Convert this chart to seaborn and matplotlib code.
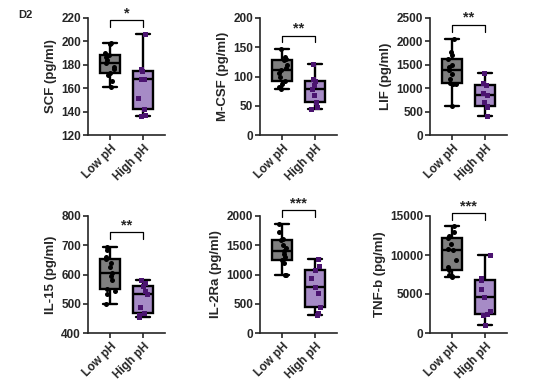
import numpy as np
import pandas as pd
import matplotlib
matplotlib.use("Agg")
import matplotlib.pyplot as plt
import seaborn as sns

sns.set_theme(style="ticks")
plt.rcParams["font.family"] = ["Liberation Sans", "DejaVu Sans"]
plt.rcParams["font.weight"] = "bold"
plt.rcParams["axes.labelweight"] = "bold"

groups = ["Low pH", "High pH"]

scf_low = [160.9, 166, 171, 172.9, 176, 178, 181.4, 184, 187, 188.6, 190, 198, 198.6]
scf_high = [136.6, 137, 142, 152, 167.7, 168, 174.3, 176, 206]
mcsf_low = [78.3, 82, 88, 93.1, 100, 106, 111.4, 115, 120, 128.6, 130, 134, 146.9]
mcsf_high = [44, 48, 56.6, 68, 78.9, 85, 92.6, 95, 121]
lif_low = [618, 1080, 1090, 1101, 1200, 1300, 1385, 1450, 1500, 1634, 1700, 1780, 2053]
lif_high = [412, 600, 625, 700, 852, 900, 1065, 1120, 1328]
il15_low = [500, 535, 545, 551, 580, 595, 605, 625, 640, 652, 660, 685, 693]
il15_high = [456, 460, 469, 490, 534, 545, 559, 570, 581]
il2ra_low = [989, 1000, 1200, 1247, 1300, 1350, 1397, 1450, 1500, 1586, 1600, 1720, 1868]
il2ra_high = [316, 340, 443, 680, 793, 940, 1075, 1150, 1270]
tnfb_low = [7200, 7300, 7500, 8057, 8500, 9300, 10671, 10800, 11400, 12214, 12500, 13000, 13671]
tnfb_high = [1071, 2300, 2486, 2800, 4629, 5600, 6771, 7100, 9986]

ylabels = ["SCF (pg/ml)", "M-CSF (pg/ml)", "LIF (pg/ml)",
           "IL-15 (pg/ml)", "IL-2Ra (pg/ml)", "TNF-b (pg/ml)"]
ylims = [(120, 220), (0, 200), (0, 2500), (400, 800), (0, 2000), (0, 15000)]
yticks = [[120, 140, 160, 180, 200, 220], [0, 50, 100, 150, 200],
          [0, 500, 1000, 1500, 2000, 2500], [400, 500, 600, 700, 800],
          [0, 500, 1000, 1500, 2000], [0, 5000, 10000, 15000]]
stars = ["*", "**", "**", "**", "***", "***"]
bracket_y = [218, 169.7, 2358, 744, 2103, 15343]
bracket_drop = [6, 11.5, 156, 24, 120, 860]

datasets = [(scf_low, scf_high), (mcsf_low, mcsf_high), (lif_low, lif_high),
            (il15_low, il15_high), (il2ra_low, il2ra_high), (tnfb_low, tnfb_high)]

grey = "#7f7f7f"
purple = "#a68bc6"
dark_purple = "#4b1470"

fig = plt.figure(figsize=(5.54, 3.84), dpi=100)
W, H = 554, 384
lefts = [88, 260, 430]
tops = [18, 216]
aw, ah = 77, 117

np.random.seed(3)
for i, (lo, hi) in enumerate(datasets):
    r, c = divmod(i, 3)
    ax = fig.add_axes([lefts[c] / W, 1 - (tops[r] + ah) / H, aw / W, ah / H])
    df = pd.DataFrame({"group": ["Low pH"] * len(lo) + ["High pH"] * len(hi),
                       "value": lo + hi})
    sns.boxplot(data=df, x="group", y="value", hue="group", order=groups,
                hue_order=groups, palette=[grey, purple], saturation=1,
                width=0.63, whis=(0, 100), linewidth=1.7, linecolor="black",
                showfliers=False, legend=False, ax=ax, capwidths=0.4)
    sns.stripplot(data=df[df.group == "Low pH"], x="group", y="value",
                  order=groups, color="black", marker="o", size=3.6,
                  jitter=0.15, ax=ax)
    sns.stripplot(data=df[df.group == "High pH"], x="group", y="value",
                  order=groups, color=dark_purple, marker="s", size=3.6,
                  jitter=0.15, ax=ax)
    ax.set_xlim(-0.667, 1.667)
    ax.set_ylim(*ylims[i])
    ax.set_yticks(yticks[i])
    ax.set_yticklabels([str(t) for t in yticks[i]])
    ax.set_xlabel("")
    ax.set_ylabel(ylabels[i], fontsize=9.5, fontweight="bold", labelpad=3)
    ax.set_xticks([0, 1])
    ax.set_xticklabels(groups, rotation=45, ha="right", rotation_mode="anchor",
                       fontsize=8.5, fontweight="bold")
    ax.tick_params(axis="y", labelsize=8.5, width=1.2, length=3.5, pad=1.5)
    ax.tick_params(axis="x", width=1.2, length=3.5, pad=2)
    for s in ["top", "right"]:
        ax.spines[s].set_visible(False)
    for s in ["left", "bottom"]:
        ax.spines[s].set_linewidth(1.2)
    by = bracket_y[i]
    dy = bracket_drop[i]
    ax.plot([0, 0, 1, 1], [by - dy, by, by, by - dy], color="black",
            lw=0.9, clip_on=False)
    ax.text(0.5, by, stars[i], ha="center", va="bottom", fontsize=10.5,
            fontweight="bold", clip_on=False)

fig.text(18 / W, 1 - 15 / H, "D2", fontsize=8, fontweight="bold",
         ha="left", va="center")

fig.savefig("out.png", dpi=100)
